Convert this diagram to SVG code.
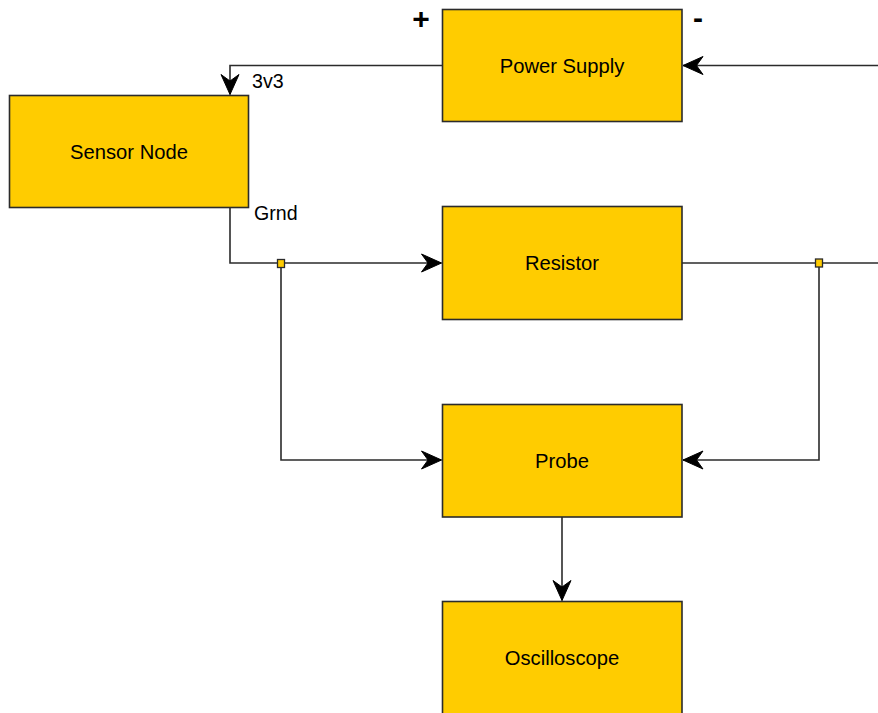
<svg xmlns="http://www.w3.org/2000/svg" width="878" height="713" viewBox="0 0 878 713">
<style>
.box{fill:#FFCC00;stroke:#2b2b2b;stroke-width:1.6}
.lbl{font-family:"Liberation Sans",Arial,sans-serif;font-size:20.2px;fill:#000;text-anchor:middle}
.ed{font-family:"Liberation Sans",Arial,sans-serif;font-size:19.6px;fill:#000}
.pm{font-family:"Liberation Sans",Arial,sans-serif;font-size:30px;font-weight:bold;fill:#000;text-anchor:middle}
.wire{fill:none;stroke:#2b2b2b;stroke-width:1.6}
.jn{fill:#FFCC00;stroke:#2b2b2b;stroke-width:1.3}
</style>
<defs>
<marker id="arr" markerUnits="userSpaceOnUse" markerWidth="24" markerHeight="22" viewBox="-21 -11 23 22" refX="0" refY="0" orient="auto">
<path d="M0,0 L-20,-9 L-13.5,0 L-20,9 Z" fill="#000" stroke="#000" stroke-width="1"/>
</marker>
</defs>
<rect width="878" height="713" fill="#fff"/>
<g id="connectors">
<path class="wire" d="M878,65.5 L683,65.5" marker-end="url(#arr)"/>
<path class="wire" d="M442,65.5 L230,65.5 L230,94.5" marker-end="url(#arr)"/>
<path class="wire" d="M230,207 L230,263 L441.5,263" marker-end="url(#arr)"/>
<path class="wire" d="M281,263 L281,460 L441.5,460" marker-end="url(#arr)"/>
<path class="wire" d="M682,263 L878,263"/>
<path class="wire" d="M819,263 L819,460 L683,460" marker-end="url(#arr)"/>
<path class="wire" d="M562,517 L562,600.5" marker-end="url(#arr)"/>
<rect class="jn" x="277.5" y="259.5" width="7" height="8"/>
<rect class="jn" x="815.5" y="259" width="7" height="8"/>
<text class="ed" x="252" y="88">3v3</text>
<text class="ed" x="254" y="220">Grnd</text>
</g>
<g id="power-supply">
<rect class="box" x="442.5" y="9.5" width="239.5" height="112"/>
<text class="lbl" x="562" y="72.5">Power Supply</text>
<text class="pm" x="421" y="29">+</text>
<text class="pm" x="698" y="28">-</text>
</g>
<g id="sensor-node">
<rect class="box" x="9.5" y="95.5" width="239" height="112"/>
<text class="lbl" x="129" y="158.5">Sensor Node</text>
</g>
<g id="resistor">
<rect class="box" x="442.5" y="206.5" width="239.5" height="113"/>
<text class="lbl" x="562" y="270">Resistor</text>
</g>
<g id="probe">
<rect class="box" x="442.5" y="404.5" width="239.5" height="112.5"/>
<text class="lbl" x="562" y="468">Probe</text>
</g>
<g id="oscilloscope">
<rect class="box" x="442.5" y="601.5" width="239.5" height="130"/>
<text class="lbl" x="562" y="665">Oscilloscope</text>
</g>
</svg>
